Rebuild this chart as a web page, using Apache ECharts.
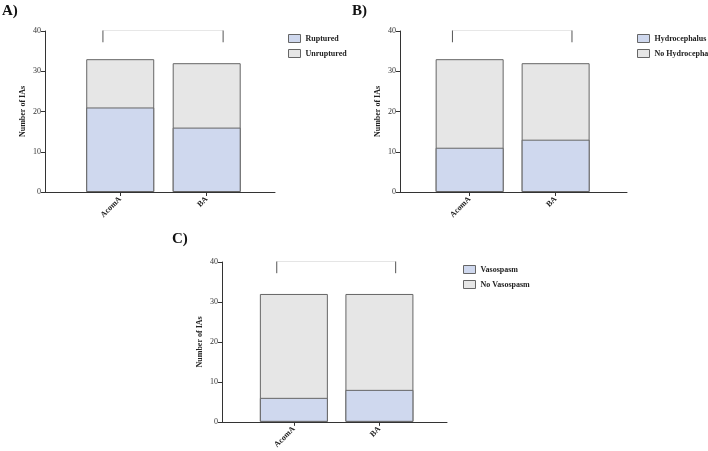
<!DOCTYPE html><html><head><meta charset="utf-8"><script src="https://cdn.jsdelivr.net/npm/echarts@6/dist/echarts.min.js"></script>
<style>body{margin:0;background:#fff}#c{width:708px;height:451px}</style></head><body><div id="c"></div><script>
const categories=['AcomA','BA'];
const panels=[
 {tag:'A)',names:['Ruptured','Unruptured'],low:[21,16],high:[12,16],p:'p = 0.206'},
 {tag:'B)',names:['Hydrocephalus','No Hydrocephalus'],low:[11,13],high:[22,19],p:'p = 0.306'},
 {tag:'C)',names:['Vasospasm','No Vasospasm'],low:[6,8],high:[26,24],p:'p = 0.655'}
];
const bracketX=[-0.2,1.19];
const layout=[
 {left:45,top:31,w:230,h:161,min:-0.87,max:1.79,tx:2,ty:4,lx:283,ly:29},
 {left:400,top:31,w:227,h:161,min:-0.81,max:1.83,tx:352,ty:4,lx:632,ly:29},
 {left:222,top:262,w:225,h:162,min:-0.84,max:1.79,tx:172,ty:232,lx:458,ly:260}
];
const F='Liberation Serif';
const grid=[],xAxis=[],yAxis=[],series=[],legend=[],graphic=[];
panels.forEach((p,i)=>{
 const L=layout[i];
 grid.push({left:L.left,top:L.top,width:L.w,height:L.h});
 xAxis.push({type:'value',gridIndex:i,min:L.min,max:L.max,splitLine:{show:false},
  axisLine:{onZero:false,lineStyle:{color:'#333'}},
  axisTick:{customValues:[0,1],length:4,lineStyle:{color:'#333'}},
  axisLabel:{customValues:[0,1],formatter:v=>categories[Math.round(v)],rotate:45,fontFamily:F,fontWeight:'bold',fontSize:8,color:'#222',margin:6}});
 yAxis.push({type:'value',gridIndex:i,min:0,max:40,interval:10,splitLine:{show:false},
  name:'Number of IAs',nameLocation:'middle',nameGap:18,nameTextStyle:{fontFamily:F,fontWeight:'bold',fontSize:8,color:'#222'},
  axisLine:{show:true,onZero:false,lineStyle:{color:'#333'}},axisTick:{show:true,length:4,lineStyle:{color:'#333'}},
  axisLabel:{fontFamily:F,fontSize:8,color:'#333',margin:4}});
 const totals=p.low.map((v,k)=>v+p.high[k]);
 const mk=(name,vals,color)=>({name,type:'bar',xAxisIndex:i,yAxisIndex:i,barWidth:68,barGap:'-100%',
   data:vals.map((v,k)=>[k,v]),itemStyle:{color,borderColor:'#666',borderWidth:1}});
 series.push(mk(p.names[1],totals,'#e6e6e6'));
 series.push(mk(p.names[0],p.low,'#cfd8ee'));
 series.push({type:'line',xAxisIndex:i,yAxisIndex:i,symbol:'none',silent:true,
  lineStyle:{color:'#555',width:1},
  data:[[bracketX[0],37.2],[bracketX[0],40.3],[bracketX[1],40.3],[bracketX[1],37.2]]});
 series.push({type:'scatter',xAxisIndex:i,yAxisIndex:i,symbolSize:0,silent:true,
  data:[[(bracketX[0]+bracketX[1])/2,40.3]],
  label:{show:true,position:'top',distance:3,formatter:p.p,fontFamily:F,fontSize:8,color:'#333'}});
 legend.push({data:p.names.map(n=>({name:n,icon:'rect'})),left:L.lx,top:L.ly,orient:'vertical',itemWidth:12,itemHeight:8,itemGap:6,
  itemStyle:{borderWidth:1,borderColor:'#666'},
  textStyle:{fontFamily:F,fontWeight:'bold',fontSize:8,color:'#222'}});
 graphic.push({type:'text',left:L.tx,top:L.ty,style:{text:p.tag,font:'bold 15px "Liberation Serif"',fill:'#111'}});
});
const ch=echarts.init(document.getElementById('c'));
ch.setOption({animation:false,grid,xAxis,yAxis,series,legend,graphic});
</script></body></html>
